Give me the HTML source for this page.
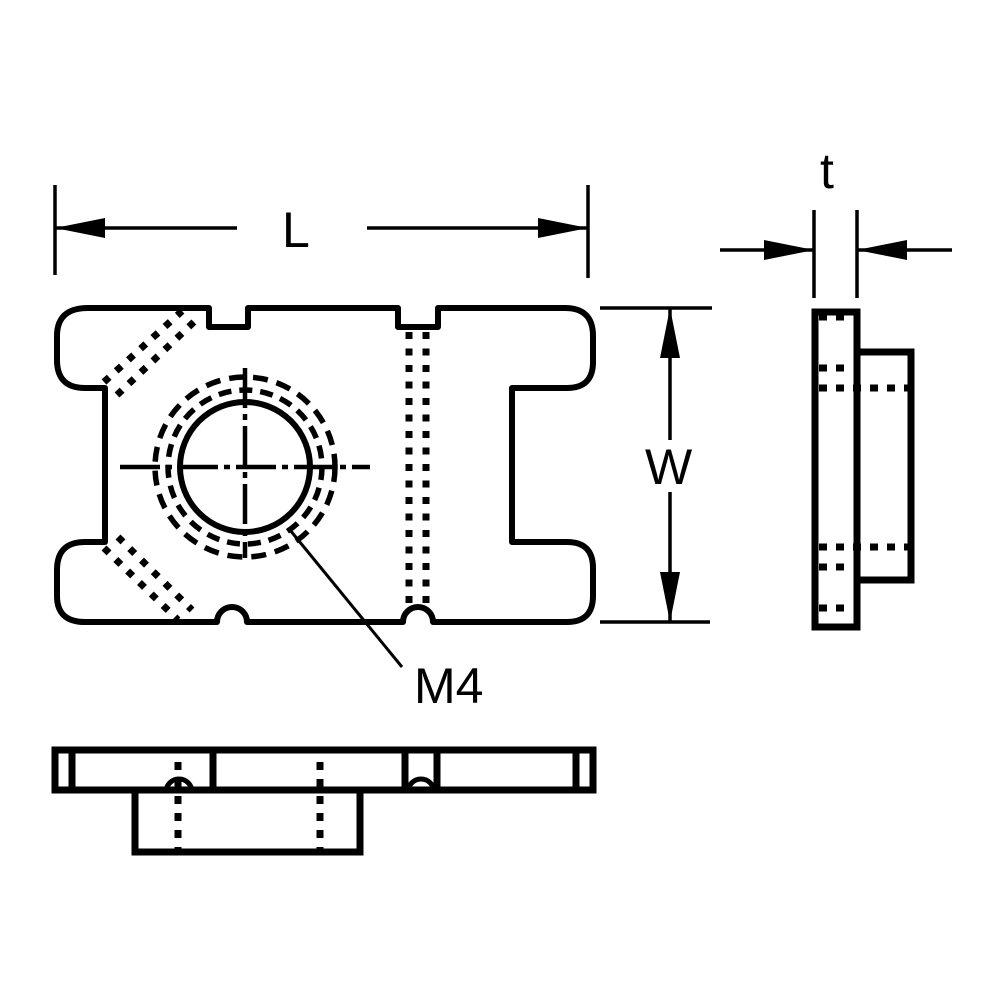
<!DOCTYPE html>
<html><head><style>html,body{margin:0;padding:0;background:#fff}svg{display:block}</style></head>
<body>
<svg width="1000" height="1000" viewBox="0 0 1000 1000" xmlns="http://www.w3.org/2000/svg">
<g fill="none" stroke="#000" stroke-width="6" stroke-linejoin="round">
<path d="M88 308 L209 308 L209 327 L248 327 L248 308 L398 308 L398 327 L438 327 L438 308 L565 308 Q593 308 593 336 L593 362 Q593 388 567 388 L512 388 L512 542 L567 542 Q593 542 593 568 L593 596 Q593 622 567 622 L433 622 A15 15 0 0 0 403 622 L247 622 A15 15 0 0 0 217 622 L85 622 Q57 622 57 596 L57 570 Q57 542 85 542 L105 542 L105 388 L85 388 Q57 388 57 360 L57 336 Q57 308 88 308 Z"/>
<circle cx="245" cy="467" r="65"/>
<circle cx="245" cy="467" r="77" stroke-width="5.5" stroke-dasharray="13 8"/>
<circle cx="245" cy="467" r="90" stroke-width="5.5" stroke-dasharray="15 9"/>
</g>
<g stroke="#000" stroke-width="4.5" fill="none">
<path d="M120 467 L370 467" stroke-dasharray="40 6 6 6"/>
<path d="M245 368 L245 558" stroke-dasharray="40 6 6 6"/>
<path d="M290 530 L402 667" stroke-width="3"/>
</g>
<g stroke="#000" stroke-width="7" fill="none" stroke-dasharray="7 9.5">
<path d="M409 332 L409 612"/><path d="M426 332 L426 612"/>
<path d="M104 382 L182 311"/><path d="M117 395 L196 320"/>
<path d="M104 548 L178 620"/><path d="M118 537 L192 610"/>
</g>
<g stroke="#000" stroke-width="3.5" fill="none">
<path d="M55 185 L55 275"/><path d="M588 185 L588 278"/>
<path d="M55 228 L237 228"/><path d="M367 228 L588 228"/>
<path d="M600 308 L712 308"/><path d="M600 622 L710 622"/>
<path d="M670 308 L670 440"/><path d="M670 492 L670 622"/>
<path d="M814 210 L814 298"/><path d="M857 210 L857 298"/>
<path d="M720 250 L814 250"/><path d="M857 250 L952 250"/>
</g>
<g fill="#000">
<polygon points="55,228 105,218 105,238"/>
<polygon points="588,228 538,218 538,238"/>
<polygon points="670,308 660,358 680,358"/>
<polygon points="670,622 660,572 680,572"/>
<polygon points="814,250 764,240 764,260"/>
<polygon points="857,250 907,240 907,260"/>
</g>
<g font-family="Liberation Sans, sans-serif" font-size="50" fill="#000">
<text x="282" y="247">L</text>
<text x="645" y="484">W</text>
<text x="820" y="188">t</text>
<text x="414" y="703">M4</text>
</g>
<g fill="none" stroke="#000" stroke-width="7">
<rect x="815" y="312" width="42" height="315"/>
<rect x="857" y="352" width="54" height="228"/>
</g>
<g stroke="#000" stroke-width="7" stroke-dasharray="8 9" fill="none">
<path d="M819 317 L853 317"/><path d="M819 368 L853 368"/><path d="M819 388 L909 388"/>
<path d="M819 547 L909 547"/><path d="M819 567 L853 567"/><path d="M819 608 L853 608"/>
</g>
<g fill="none" stroke="#000" stroke-width="7">
<rect x="55" y="750" width="538" height="40"/>
<path d="M72 752 L72 788"/><path d="M213 752 L213 788"/><path d="M405 752 L405 788"/><path d="M437 752 L437 788"/><path d="M576 752 L576 788"/>
<path d="M135 790 L135 852 L360 852 L360 790"/>
</g>
<g fill="none" stroke="#000" stroke-width="5">
<path d="M166 792 A13 13 0 0 1 192 792"/>
<path d="M408 792 A13 13 0 0 1 434 792"/>
</g>
<g stroke="#000" stroke-width="7" stroke-dasharray="8 9" fill="none">
<path d="M178 762 L178 852"/><path d="M320 762 L320 852"/>
</g>
</svg>
</body></html>
